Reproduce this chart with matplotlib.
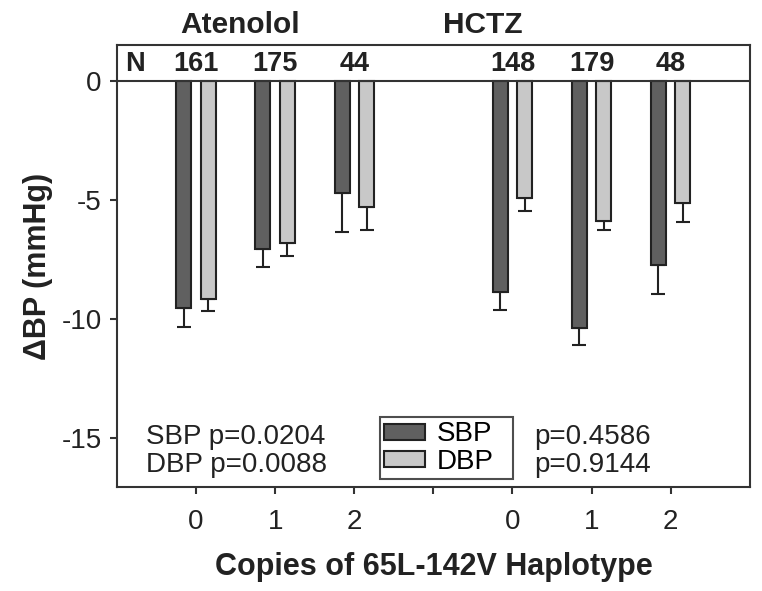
import numpy as np
import matplotlib.pyplot as plt
from matplotlib.patches import Patch

plt.rcParams['font.family'] = ['Liberation Sans', 'DejaVu Sans']

# Data (mean change, one-sided error)
copies = ['0', '1', '2']
drugs = ['Atenolol', 'HCTZ']
n_counts = [[161, 175, 44], [148, 179, 48]]
sbp_mean = [[-9.55, -7.05, -4.72], [-8.85, -10.36, -7.75]]
sbp_err = [[0.77, 0.78, 1.63], [0.79, 0.74, 1.19]]
dbp_mean = [[-9.15, -6.81, -5.31], [-4.92, -5.87, -5.14]]
dbp_err = [[0.51, 0.56, 0.97], [0.53, 0.38, 0.78]]
p_text = [['SBP p=0.0204', 'DBP p=0.0088'], ['p=0.4586', 'p=0.9144']]

sbp_color = '#606060'
dbp_color = '#c8c8c8'
edge = '#222222'

fig = plt.figure(figsize=(7.62, 5.91), dpi=100)
ax = fig.add_axes([0.1535, 0.176, 0.8305, 0.748])

width = 0.19
offset = 0.155
group_pos = [np.array([0, 1, 2]), np.array([4, 5, 6])]

for g in range(2):
    x = group_pos[g]
    s = np.array(sbp_mean[g])
    d = np.array(dbp_mean[g])
    ax.bar(x - offset, s, width, color=sbp_color, edgecolor=edge, linewidth=1.5, zorder=3)
    ax.bar(x + offset, d, width, color=dbp_color, edgecolor=edge, linewidth=1.5, zorder=3)
    ax.errorbar(x - offset, s, yerr=[sbp_err[g], np.zeros(3)], fmt='none',
                ecolor=edge, elinewidth=1.5, capsize=5, capthick=1.5, zorder=2)
    ax.errorbar(x + offset, d, yerr=[dbp_err[g], np.zeros(3)], fmt='none',
                ecolor=edge, elinewidth=1.5, capsize=5, capthick=1.5, zorder=2)
    for xi, n in zip(x, n_counts[g]):
        ax.text(xi, 0.72, str(n), ha='center', va='center', fontsize=19.5,
                fontweight='bold', color='#222222')

ax.text(-0.77, 0.72, 'N', ha='center', va='center', fontsize=19.5,
        fontweight='bold', color='#222222')

ax.axhline(0, color='#333333', linewidth=1.5, zorder=4)

# drug titles above the axes
trans = ax.get_xaxis_transform()
ax.text(0.55, 1.046, drugs[0], transform=trans, ha='center', va='center',
        fontsize=21.5, fontweight='bold', color='#222222')
ax.text(3.62, 1.046, drugs[1], transform=trans, ha='center', va='center',
        fontsize=21.5, fontweight='bold', color='#222222')

# p-values
ax.text(-0.63, -14.96, p_text[0][0], ha='left', va='center', fontsize=20, color='#222222')
ax.text(-0.63, -16.13, p_text[0][1], ha='left', va='center', fontsize=20, color='#222222')
ax.text(4.28, -14.96, p_text[1][0], ha='left', va='center', fontsize=20, color='#222222')
ax.text(4.28, -16.13, p_text[1][1], ha='left', va='center', fontsize=20, color='#222222')

handles = [Patch(facecolor=sbp_color, edgecolor=edge, linewidth=1.5, label='SBP'),
           Patch(facecolor=dbp_color, edgecolor=edge, linewidth=1.5, label='DBP')]
leg = ax.legend(handles=handles, loc='lower left',
                bbox_to_anchor=(0.415, 0.018, 0.211, 0.143), mode='expand',
                fontsize=20, frameon=True, fancybox=False, handlelength=1.5,
                handleheight=0.5, handletextpad=0.4, borderpad=0.15,
                labelspacing=0.05, borderaxespad=0)
leg.get_frame().set_edgecolor('#222222')
leg.get_frame().set_linewidth(1.5)

ax.set_xlim(-1, 7)
ax.set_ylim(-17.05, 1.5)
ax.set_xticks(range(7))
ax.set_xticklabels(copies + [''] + copies)
ax.set_yticks([0, -5, -10, -15])
ax.set_yticklabels(['0', '-5', '-10', '-15'])
ax.tick_params(axis='both', labelsize=20, length=5, width=1.5, colors='#333333',
               labelcolor='#222222', pad=6)
ax.tick_params(axis='x', pad=11)

for sp in ax.spines.values():
    sp.set_linewidth(1.5)
    sp.set_color('#333333')

ax.set_xlabel('Copies of 65L-142V Haplotype', fontsize=22, fontweight='bold',
              color='#222222', labelpad=12)
ax.set_ylabel('\u0394BP (mmHg)', fontsize=22, fontweight='bold', color='#222222',
              labelpad=6)

fig.savefig('out.png', dpi=100)
